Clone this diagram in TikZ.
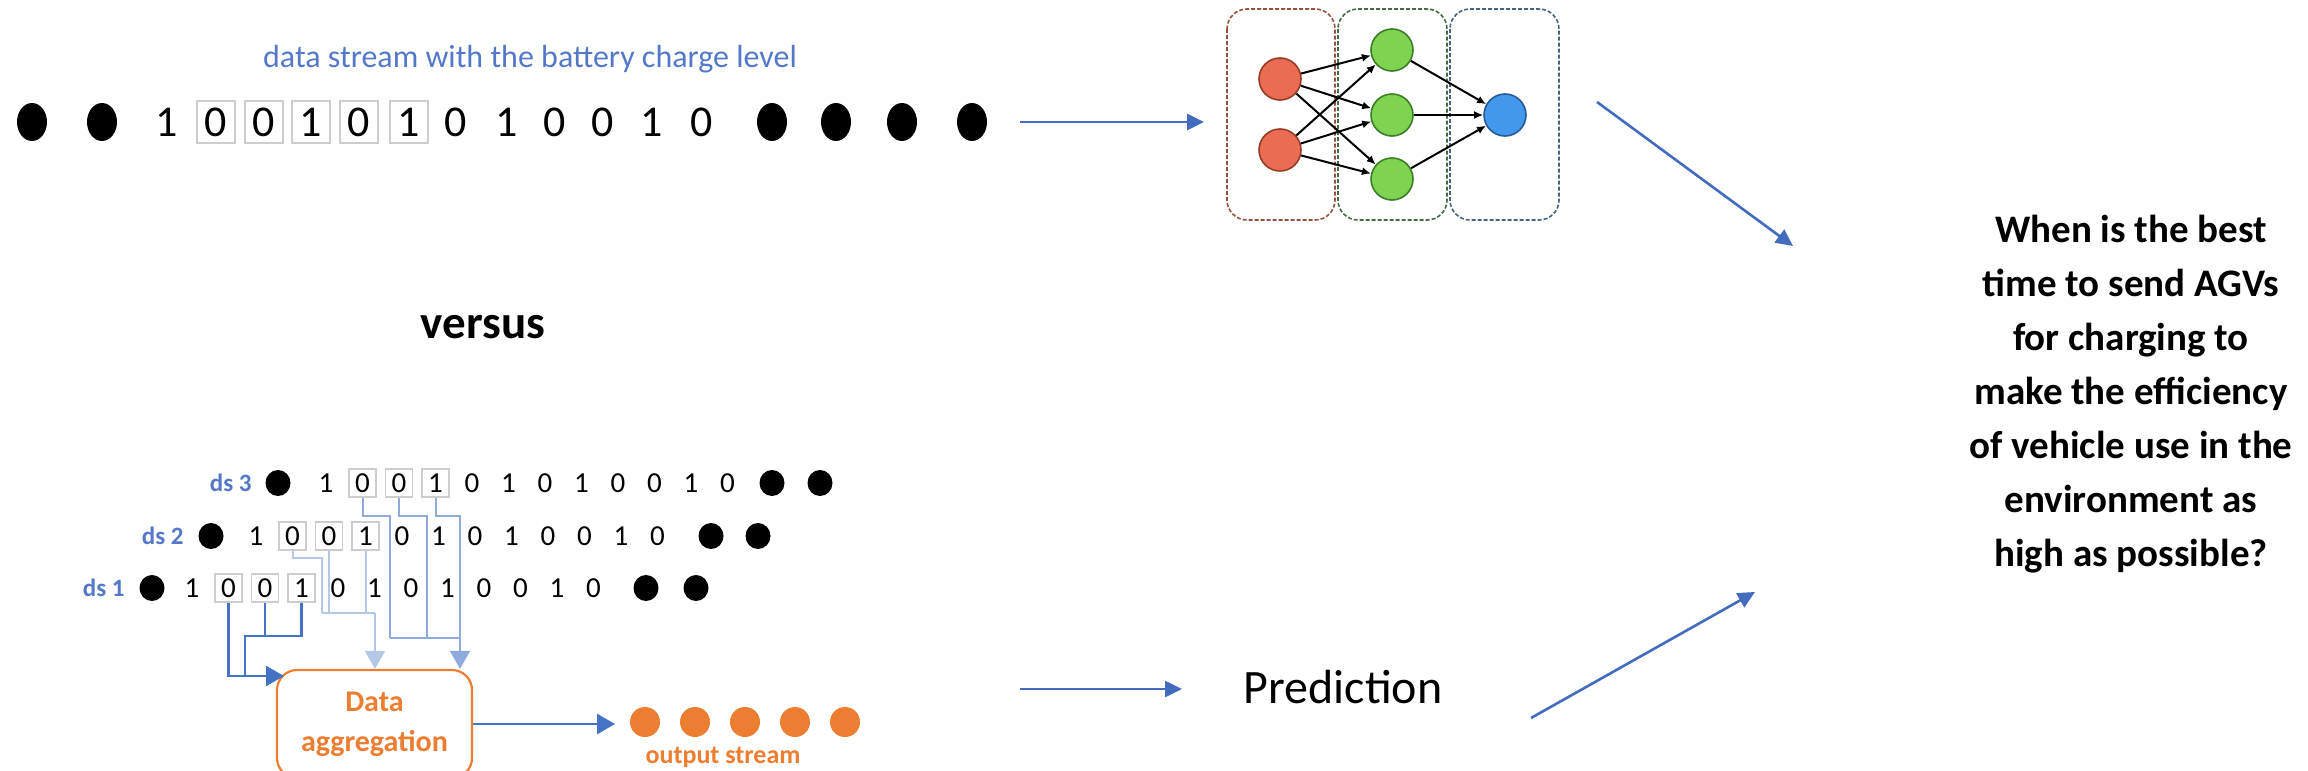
\documentclass[tikz,border=0pt]{standalone}
\usepackage{fontspec}
\setmainfont{Carlito}
\usetikzlibrary{arrows.meta,shapes.geometric,calc}

\definecolor{txtblue}{RGB}{84,120,200}
\definecolor{arrblue}{RGB}{68,108,190}
\definecolor{darkln}{RGB}{68,114,196}
\definecolor{lightln}{RGB}{180,199,231}
\definecolor{medln}{RGB}{143,170,220}
\definecolor{aggorange}{RGB}{237,125,49}
\definecolor{boxgray}{RGB}{205,205,205}
\definecolor{nnred}{RGB}{234,108,82}
\definecolor{nnredb}{RGB}{150,60,40}
\definecolor{nngreen}{RGB}{126,211,80}
\definecolor{nngreenb}{RGB}{60,125,40}
\definecolor{nnblue}{RGB}{66,152,236}
\definecolor{nnblueb}{RGB}{40,90,150}
\definecolor{layred}{RGB}{150,80,60}
\definecolor{laygreen}{RGB}{70,105,70}
\definecolor{layblue}{RGB}{70,100,130}

\begin{document}
\begin{tikzpicture}[x=0.5pt,y=-0.5pt,
  topdig/.style={inner sep=0pt, font=\fontsize{22}{26}\selectfont},
  topbox/.style={topdig, draw=boxgray, line width=1.1pt, minimum width=19pt, minimum height=21pt},
  topdot/.style={ellipse, fill=black, inner sep=0pt, minimum width=15pt, minimum height=19pt},
  botdig/.style={inner sep=0pt, font=\fontsize{14.5}{17}\selectfont},
  botbox/.style={botdig, draw=boxgray, line width=0.9pt, minimum width=13.5pt, minimum height=14pt},
  botdot/.style={ellipse, fill=black, inner sep=0pt, minimum width=12.5pt, minimum height=13pt},
  dslabel/.style={anchor=east, inner sep=0pt, text=txtblue, font=\bfseries\fontsize{12.5}{15}\selectfont},
  darkw/.style={draw=darkln, line width=1.3pt},
  lightw/.style={draw=lightln, line width=1pt},
  medw/.style={draw=medln, line width=1pt},
  feed/.style={-{Triangle[length=9pt,width=10pt]}},
  bigarr/.style={draw=arrblue, line width=1.3pt, -{Triangle[length=8.5pt,width=8pt]}},
  layer/.style={draw=#1, line width=0.8pt, dash pattern=on 2pt off 1pt, rounded corners=10pt},
  neuron/.style={circle, draw=#1, line width=0.8pt, minimum size=21pt, inner sep=0pt},
  nnedge/.style={draw=black, line width=1pt, -{Latex[length=4.5pt,width=4pt]}},
  odot/.style={circle, fill=aggorange, inner sep=0pt, minimum size=15pt},
  aggbox/.style={draw=aggorange, line width=1.1pt, rounded corners=10pt, minimum width=97.5pt,
    minimum height=54pt, align=center, text=aggorange, font=\bfseries\fontsize{15}{20}\selectfont},
  bigtxt/.style={align=center, inner sep=0pt}
]
\useasboundingbox (0,0) rectangle (2308,771);

% ---------- single data stream ----------
\node[text=txtblue, font=\fontsize{16}{19}\selectfont, inner sep=0pt] (title) at (530,59)
  {data stream with the battery charge level};
\node[topdot] (tl1) at (32,122) {};
\node[topdot] (tl2) at (102,122) {};
\foreach \x/\d/\s [count=\i] in {167/1/topdig,216/0/topbox,264/0/topbox,311/1/topbox,
  359/0/topbox,409/1/topbox,456/0/topdig,507/1/topdig,555/0/topdig,603/0/topdig,
  652/1/topdig,702/0/topdig}
  \node[\s] (td\i) at (\x,122) {\d};
\foreach \x [count=\i] in {772,836,902,972}
  \node[topdot] (tr\i) at (\x,122) {};

\coordinate (a1s) at (1020,122);
\coordinate (a1e) at (1204,122);
\draw[bigarr] (a1s) -- (a1e);

% ---------- neural network ----------
\draw[layer=layred] (1227,9) rectangle (1335,220);
\draw[layer=laygreen] (1338,9) rectangle (1447,220);
\draw[layer=layblue] (1450,9) rectangle (1559,220);
\node[neuron=nnredb, fill=nnred] (r1) at (1280,79) {};
\node[neuron=nnredb, fill=nnred] (r2) at (1280,150) {};
\node[neuron=nngreenb, fill=nngreen] (g1) at (1392,50) {};
\node[neuron=nngreenb, fill=nngreen] (g2) at (1392,115) {};
\node[neuron=nngreenb, fill=nngreen] (g3) at (1392,179) {};
\node[neuron=nnblueb, fill=nnblue] (bo) at (1505,115) {};
\foreach \s in {r1,r2}
  \foreach \t in {g1,g2,g3}
    \draw[nnedge] (\s) -- (\t);
\foreach \s in {g1,g2,g3}
  \draw[nnedge] (\s) -- (bo);

% ---------- question ----------
\node[bigtxt, font=\bfseries\fontsize{19.5}{27}\selectfont] (q) at (2131,394)
  {When is the best\\time to send AGVs\\for charging to\\make the efficiency\\of vehicle use in the\\environment as\\high as possible?};
\coordinate (a2s) at (1597,102);
\coordinate (a2e) at (1793,246);
\draw[bigarr] (a2s) -- (a2e);

\node[bigtxt, font=\bfseries\fontsize{23.5}{27}\selectfont] (vs) at (483,327) {versus};

% ---------- three aggregated streams ----------
\def\bits{1/botdig,0/botbox,0/botbox,1/botbox,0/botdig,1/botdig,0/botdig,1/botdig,0/botdig,0/botdig,1/botdig,0/botdig}
% ds 3
\node[dslabel] (l3) at (252,483) {ds 3};
\node[botdot] (c0) at (278,483) {};
\foreach \d/\s [count=\i] in \bits
  \node[\s] (c\i) at ({326+36.5*(\i-1)},483) {\d};
\node[botdot] (cr1) at (772,483) {};
\node[botdot] (cr2) at (820,483) {};
% ds 2
\node[dslabel] (l2) at (184,536) {ds 2};
\node[botdot] (b0) at (211,536) {};
\foreach \d/\s [count=\i] in \bits
  \node[\s] (b\i) at ({256+36.5*(\i-1)},536) {\d};
\node[botdot] (br1) at (711,536) {};
\node[botdot] (br2) at (758,536) {};
% ds 1
\node[dslabel] (l1) at (125,588) {ds 1};
\node[botdot] (a0) at (152,588) {};
\foreach \d/\s [count=\i] in \bits
  \node[\s] (a\i) at ({192+36.5*(\i-1)},588) {\d};
\node[botdot] (ar1) at (646,588) {};
\node[botdot] (ar2) at (696,588) {};

% aggregation block and output stream
\node[aggbox] (agg) at (374.5,724) {Data\\aggregation};
\foreach \i in {1,...,5}
  \node[odot] (o\i) at ({645+50*(\i-1)},722) {};
\node[text=aggorange, inner sep=0pt, font=\bfseries\fontsize{13}{15}\selectfont] (ostr) at (723,757) {output stream};
\coordinate (otip) at (615,724);
\draw[darkw, feed] (agg.east) -- (otip);

% ds 1 feeds (dark)
\coordinate (aggL) at (284,676);
\coordinate (dj1) at (245,636);
\coordinate (dj2) at (245,676);
\draw[darkw, feed] (a2.south) |- (aggL);
\draw[darkw] (a3.south) -- (a3.south |- dj1);
\draw[darkw] (a4.south) |- (dj1) -- (dj2);

% ds 2 feeds (light)
\coordinate (lx1) at (322,613);
\coordinate (lj) at (375,613);
\draw[lightw] (b2.south) -- ++(0,7) -| (lx1);
\draw[lightw] (b3.south) -- (b3.south |- lj);
\draw[lightw] (b4.south) -- (b4.south |- lj);
\draw[lightw] (lx1) -- (lj);
\draw[lightw, feed] (lj) -- (lj |- agg.north);

% ds 3 feeds (medium)
\coordinate (mx1) at (390,638);
\coordinate (mx2) at (427,638);
\coordinate (mj) at (460,638);
\draw[medw] (c2.south) -- ++(0,18) -| (mx1);
\draw[medw] (c3.south) -- ++(0,18) -| (mx2);
\draw[medw] (c4.south) -- ++(0,18) -| (mj);
\draw[medw] (mx1) -- (mj);
\draw[medw, feed] (mj) -- (mj |- agg.north);

% ---------- prediction ----------
\coordinate (a3s) at (1020,689);
\coordinate (a3e) at (1182,689);
\draw[bigarr] (a3s) -- (a3e);
\node[bigtxt, font=\fontsize{24}{28}\selectfont] (pred) at (1343,687) {Prediction};
\coordinate (a4s) at (1531,718);
\coordinate (a4e) at (1755,592);
\draw[bigarr] (a4s) -- (a4e);
\end{tikzpicture}
\end{document}
